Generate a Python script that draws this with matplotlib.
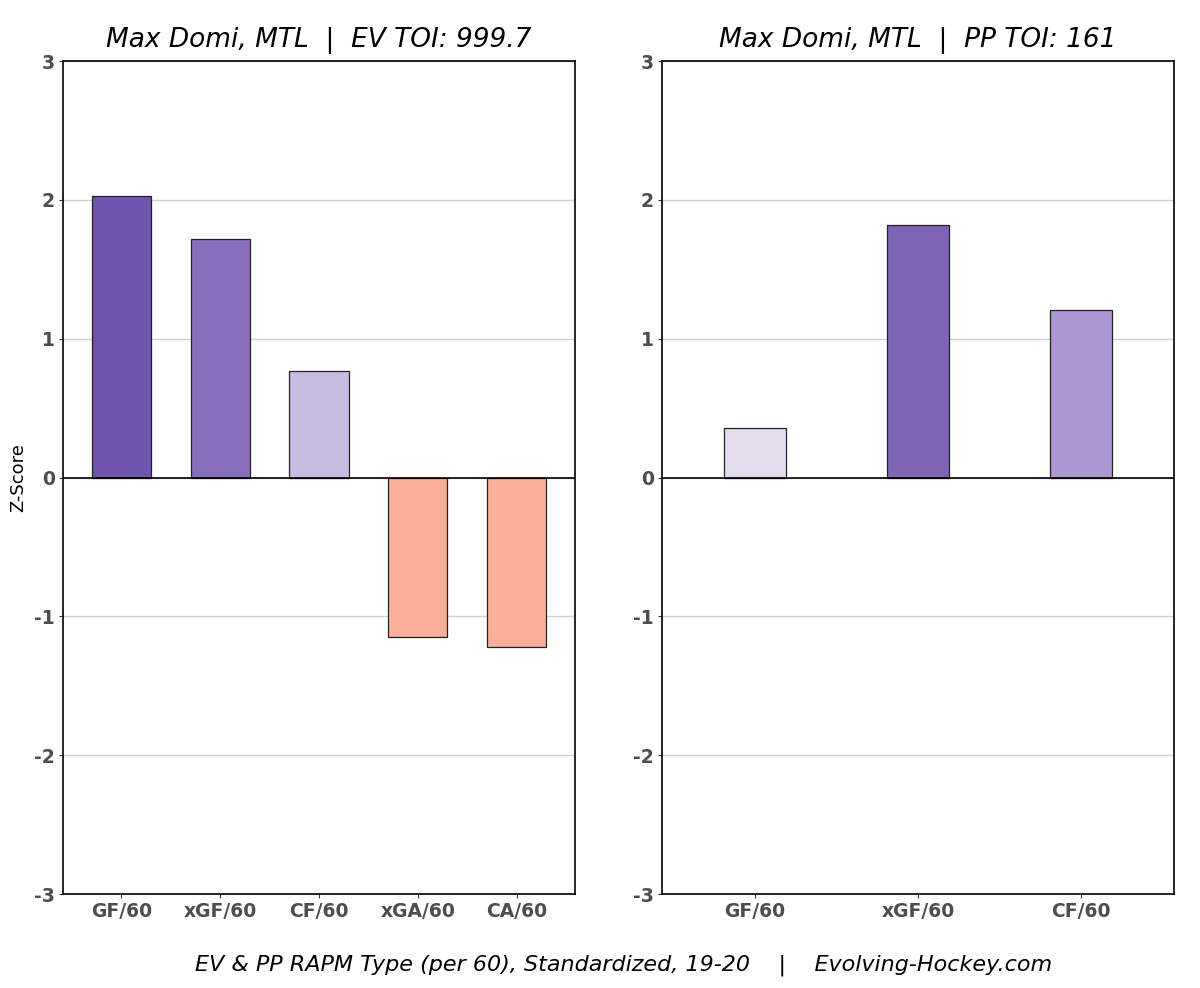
import matplotlib
matplotlib.use("Agg")
import matplotlib.pyplot as plt
import numpy as np

plt.rcParams["axes.unicode_minus"] = False

# EV panel
ev_labels = ["GF/60", "xGF/60", "CF/60", "xGA/60", "CA/60"]
ev_values = [2.03, 1.72, 0.77, -1.15, -1.22]
ev_colors = ["#7054ae", "#876dbc", "#c9bbe2", "#fbae99", "#fbae99"]

# PP panel
pp_labels = ["GF/60", "xGF/60", "CF/60"]
pp_values = [0.36, 1.82, 1.21]
pp_colors = ["#e3dcef", "#8064b6", "#ad97d2"]

ev_title = "Max Domi, MTL  |  EV TOI: 999.7"
pp_title = "Max Domi, MTL  |  PP TOI: 161"
caption = "EV & PP RAPM Type (per 60), Standardized, 19-20    |    Evolving-Hockey.com"

fig = plt.figure(figsize=(12, 9.88), dpi=100)
ax1 = fig.add_axes([63 / 1200, 1 - 894 / 988, 512 / 1200, 833 / 988])
ax2 = fig.add_axes([662 / 1200, 1 - 894 / 988, 512 / 1200, 833 / 988])


def draw_panel(ax, labels, values, colors, title, width, pad):
    x = np.arange(1, len(labels) + 1)
    ax.set_axisbelow(True)
    ax.yaxis.grid(True, color="#d0d0d0", linewidth=1)
    ax.bar(x, values, width=width, color=colors, edgecolor="#222222", linewidth=0.9, zorder=2)
    ax.axhline(0, color="black", linewidth=1.2, zorder=3)
    ax.set_xlim(1 - pad, len(labels) + pad)
    ax.set_ylim(-3, 3)
    ax.set_yticks(range(-3, 4))
    ax.set_xticks(x)
    ax.set_xticklabels(labels)
    for lbl in ax.get_xticklabels() + ax.get_yticklabels():
        lbl.set_fontweight("bold")
        lbl.set_color("#4d4d4d")
        lbl.set_fontsize(13.5)
    ax.tick_params(axis="both", length=3, pad=3, color="#333333")
    for s in ax.spines.values():
        s.set_color("black")
        s.set_linewidth(1.2)
    ax.set_title(title, fontsize=19, style="italic", pad=10)


draw_panel(ax1, ev_labels, ev_values, ev_colors, ev_title, 0.6, 0.59)
draw_panel(ax2, pp_labels, pp_values, pp_colors, pp_title, 0.38, 0.57)
ax1.set_ylabel("Z-Score", fontsize=13)
ax1.yaxis.set_label_coords(-0.07, 0.5)

fig.text(0.52, 1 - 965 / 988, caption, ha="center", va="center", fontsize=16, style="italic")

fig.savefig("out.png", dpi=100)
